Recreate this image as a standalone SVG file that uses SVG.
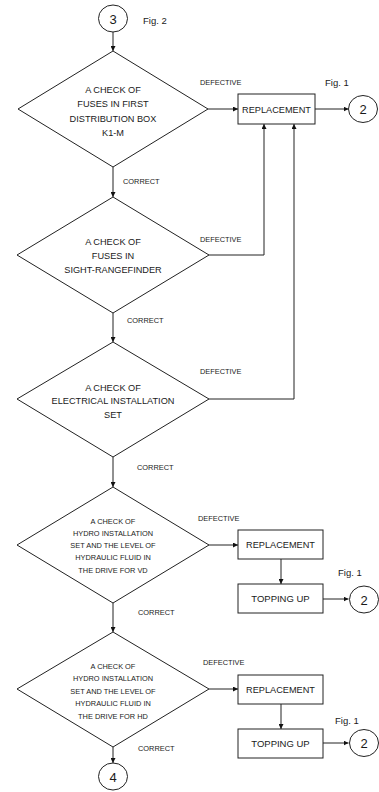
<svg xmlns="http://www.w3.org/2000/svg" width="379" height="792" viewBox="0 0 379 792">
<defs>
<marker id="ah" viewBox="0 0 10 10" refX="10" refY="5" markerWidth="5" markerHeight="5" orient="auto" markerUnits="userSpaceOnUse">
<path d="M0,0 L10,5 L0,10 z" fill="#111"/>
</marker>
<style>
.sh{fill:#fff;stroke:#222;stroke-width:1}
.ln{fill:none;stroke:#222;stroke-width:1;marker-end:url(#ah)}
text{font-family:"Liberation Sans",Arial,sans-serif;fill:#1a1a1a}
.t{font-size:9.2px;text-anchor:middle}
.ts{font-size:7.4px;text-anchor:middle}
.lb{font-size:7.4px}
.fig{font-size:9.5px}
.num{font-size:13px;text-anchor:middle}
</style>
</defs>
<rect width="379" height="792" fill="#fff"/>
<g id="connectors">
<path class="ln" d="M113,32 V51"/>
<path class="ln" d="M113,167 V197"/>
<path class="ln" d="M113,313 V342"/>
<path class="ln" d="M113,457 V487"/>
<path class="ln" d="M113,603 V632"/>
<path class="ln" d="M113,747 V763"/>
<path class="ln" d="M208,109 H238"/>
<path class="ln" d="M315,109 H348.5"/>
<path class="ln" d="M209,255 H264 V124"/>
<path class="ln" d="M209,399 H294 V124"/>
<path class="ln" d="M209,545 H238"/>
<path class="ln" d="M281,559 V584"/>
<path class="ln" d="M323,599 H348.5"/>
<path class="ln" d="M209,689 H238"/>
<path class="ln" d="M281,704 V729"/>
<path class="ln" d="M323,743 H348.5"/>
</g>
<g id="start3">
<ellipse class="sh" cx="113" cy="18.5" rx="14.5" ry="13.5"/>
<text class="num" x="113" y="23.5">3</text>
<text class="fig" x="143" y="24">Fig. 2</text>
</g>
<g id="check1">
<polygon class="sh" points="113,51 208,109 113,167 18,109"/>
<text class="t" x="113" y="92.5">A CHECK OF</text>
<text class="t" x="113" y="107">FUSES IN FIRST</text>
<text class="t" x="113" y="121.5">DISTRIBUTION BOX</text>
<text class="t" x="113" y="136">K1-M</text>
<text class="lb" x="200" y="85">DEFECTIVE</text>
<text class="lb" x="123" y="184">CORRECT</text>
</g>
<g id="replace1">
<rect class="sh" x="238" y="94" width="77" height="30"/>
<text class="t" x="276.5" y="112.5">REPLACEMENT</text>
<text class="fig" x="325" y="85.5">Fig. 1</text>
</g>
<g id="end2a">
<ellipse class="sh" cx="363" cy="109" rx="14.5" ry="13.5"/>
<text class="num" x="363" y="114">2</text>
</g>
<g id="check2">
<polygon class="sh" points="113,197 209,255 113,313 17,255"/>
<text class="t" x="113" y="244.5">A CHECK OF</text>
<text class="t" x="113" y="258.5">FUSES IN</text>
<text class="t" x="113" y="272.5">SIGHT-RANGEFINDER</text>
<text class="lb" x="200" y="242">DEFECTIVE</text>
<text class="lb" x="127" y="323">CORRECT</text>
</g>
<g id="check3">
<polygon class="sh" points="113,342 209,399 113,457 17,399"/>
<text class="t" x="113" y="390.5">A CHECK OF</text>
<text class="t" x="113" y="403.5">ELECTRICAL INSTALLATION</text>
<text class="t" x="113" y="417.5">SET</text>
<text class="lb" x="200" y="374">DEFECTIVE</text>
<text class="lb" x="137" y="470">CORRECT</text>
</g>
<g id="check4">
<polygon class="sh" points="113,487 209,545 113,603 17,545"/>
<text class="ts" x="113" y="524">A CHECK OF</text>
<text class="ts" x="113" y="536">HYDRO INSTALLATION</text>
<text class="ts" x="113" y="548">SET AND THE LEVEL OF</text>
<text class="ts" x="113" y="560">HYDRAULIC FLUID IN</text>
<text class="ts" x="113" y="572.5">THE DRIVE FOR VD</text>
<text class="lb" x="198" y="521">DEFECTIVE</text>
<text class="lb" x="138" y="615">CORRECT</text>
</g>
<g id="replace2">
<rect class="sh" x="238" y="530" width="85" height="29"/>
<text class="t" x="280.5" y="548">REPLACEMENT</text>
</g>
<g id="topup1">
<rect class="sh" x="238" y="584" width="85" height="29"/>
<text class="t" x="280.5" y="602" style="font-size:9.5px">TOPPING UP</text>
<text class="fig" x="338" y="575.5">Fig. 1</text>
</g>
<g id="end2b">
<ellipse class="sh" cx="364" cy="599.5" rx="14.5" ry="13.5"/>
<text class="num" x="364" y="604.5">2</text>
</g>
<g id="check5">
<polygon class="sh" points="113,632 209,689 113,747 17,689"/>
<text class="ts" x="113" y="668.5">A CHECK OF</text>
<text class="ts" x="113" y="681">HYDRO INSTALLATION</text>
<text class="ts" x="113" y="693.5">SET AND THE LEVEL OF</text>
<text class="ts" x="113" y="706">HYDRAULIC FLUID IN</text>
<text class="ts" x="113" y="718.5">THE DRIVE FOR HD</text>
<text class="lb" x="203" y="665">DEFECTIVE</text>
<text class="lb" x="138" y="751">CORRECT</text>
</g>
<g id="replace3">
<rect class="sh" x="238" y="675" width="85" height="29"/>
<text class="t" x="280.5" y="693">REPLACEMENT</text>
</g>
<g id="topup2">
<rect class="sh" x="238" y="729" width="85" height="29"/>
<text class="t" x="280.5" y="747" style="font-size:9.5px">TOPPING UP</text>
<text class="fig" x="335" y="724">Fig. 1</text>
</g>
<g id="end2c">
<ellipse class="sh" cx="364" cy="743" rx="14.5" ry="13.5"/>
<text class="num" x="364" y="748">2</text>
</g>
<g id="end4">
<ellipse class="sh" cx="113" cy="776.5" rx="14.5" ry="13.5"/>
<text class="num" x="113" y="781.5">4</text>
</g>
</svg>
